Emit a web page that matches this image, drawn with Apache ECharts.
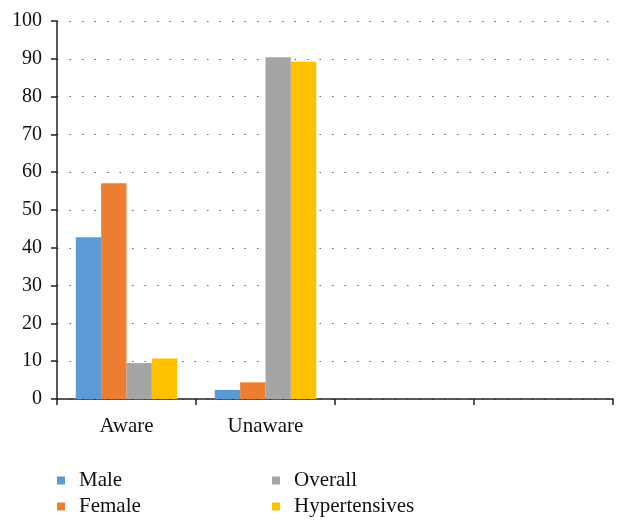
<!DOCTYPE html>
<html><head><meta charset="utf-8">
<script src="https://cdn.jsdelivr.net/npm/echarts@6/dist/echarts.min.js"></script>
<style>html,body{margin:0;padding:0;background:#fff}#c{width:628px;height:532px}</style>
</head><body><div id="c"></div>
<script>
const categories = ['Aware', 'Unaware', '', ''];
const seriesNames = ['Male', 'Female', 'Overall', 'Hypertensives'];
const male = [42.8, 2.4, null, null];
const female = [57.1, 4.4, null, null];
const overall = [9.5, 90.4, null, null];
const hypertensives = [10.7, 89.2, null, null];
const yTicks = [0, 100, 10];

const colors = ['#5B9BD5', '#ED7D31', '#A5A5A5', '#FFC000'];
const values = [male, female, overall, hypertensives];
const font = 'Liberation Serif';
const chart = echarts.init(document.getElementById('c'));
const legendCommon = {
  orient: 'vertical', icon: 'rect', itemWidth: 8, itemHeight: 8, itemGap: 5,
  textStyle: { fontFamily: font, fontSize: 21, color: '#111', padding: [0, 0, 0, 9] },
  selectedMode: false
};
chart.setOption({
  animation: false,
  color: colors,
  grid: { left: 57, right: 15, top: 21, bottom: 133 },
  legend: [
    Object.assign({ left: 52, top: 465, data: [seriesNames[0], seriesNames[1]] }, legendCommon),
    Object.assign({ left: 267, top: 465, data: [seriesNames[2], seriesNames[3]] }, legendCommon)
  ],
  xAxis: {
    type: 'category', data: categories,
    axisLine: { lineStyle: { color: '#222', width: 1.5 } },
    axisTick: { show: true, length: 6, lineStyle: { color: '#222', width: 1.5 } },
    axisLabel: { fontFamily: font, fontSize: 21, color: '#111', margin: 17 }
  },
  yAxis: {
    type: 'value', min: yTicks[0], max: yTicks[1], interval: yTicks[2],
    axisLine: { show: true, lineStyle: { color: '#222', width: 1.5 } },
    axisTick: { show: true, length: 6, lineStyle: { color: '#222', width: 1.5 } },
    axisLabel: { fontFamily: font, fontSize: 20, color: '#111', margin: 15 },
    splitLine: { lineStyle: { color: '#666', type: [1.5, 11], width: 1.2 } }
  },
  series: seriesNames.map((n, i) => ({
    name: n, type: 'bar', data: values[i],
    barGap: '0%', barCategoryGap: '27%'
  }))
});
</script></body></html>
